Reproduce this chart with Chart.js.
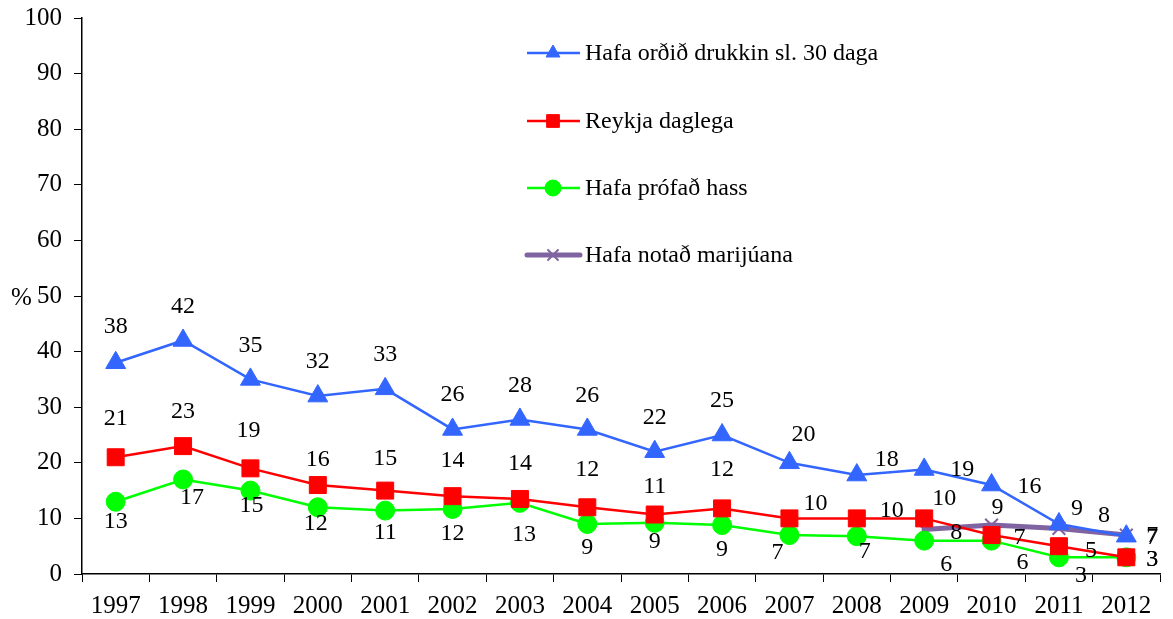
<!DOCTYPE html>
<html>
<head>
<meta charset="utf-8">
<script src="https://cdn.jsdelivr.net/npm/chart.js@4"></script>
<style>
  html, body { margin: 0; padding: 0; background: #fff; }
  #wrap { width: 1173px; height: 619px; position: relative; }
</style>
</head>
<body>
<div id="wrap"><canvas id="chart"></canvas></div>
<script>
const years = ["1997", "1998", "1999", "2000", "2001", "2002", "2003", "2004",
               "2005", "2006", "2007", "2008", "2009", "2010", "2011", "2012"];
const drukkin = [38, 42, 35, 32, 33.3, 26, 27.8, 26, 22, 25, 20, 17.8, 18.8, 16, 9, 6.8];
const reykja = [21, 23, 19, 16, 15, 14, 13.5, 12, 10.7, 11.8, 10, 10, 10, 7, 5, 3];
const hass = [13, 17, 15, 12, 11.4, 11.7, 12.8, 9, 9.2, 8.8, 7, 6.8, 6, 6, 3, 3];
const marijuana = [null, null, null, null, null, null, null, null,
                   null, null, null, null, 8, 8.8, 8.2, 7];
const yTicks = [0, 10, 20, 30, 40, 50, 60, 70, 80, 90, 100];

const seriesNames = ["Hafa orðið drukkin sl. 30 daga", "Reykja daglega", "Hafa prófað hass", "Hafa notað marijúana"];

// where each value label sits relative to its point (px)
const labelOffsets = [
    [[0,-36],[0,-34],[0,-34],[0,-34],[0,-34],[0,-35],[0,-34],[0,-34],[0,-34],[0,-34],[14,-28],[30,-15],[38,0],[38,2],[18,-15],[26,0]],
    [[0,-39],[0,-34],[-2,-38],[0,-25],[0,-32],[0,-35],[0,-35],[0,-38],[0,-28],[0,-39],[26,-15],[35,-8],[20,-20],[28,3],[32,5],[26,2]],
    [[0,20],[9,18],[1,15],[-2,16],[0,22],[0,25],[4,32],[0,24],[0,19],[0,25],[-12,18],[8,16],[22,24],[31,22],[22,18],[26,2]],
    [null,null,null,null,null,null,null,null,null,null,null,null,[32,3],[6,-17],[45,-13],[26,3]]
];

const FONT = "'Liberation Serif', 'Times New Roman', serif";

const valueLabels = {
    id: "valueLabels",
    afterDatasetsDraw(chart) {
        const ctx = chart.ctx;
        ctx.save();
        ctx.font = "24px " + FONT;
        ctx.fillStyle = "#000";
        ctx.textAlign = "center";
        ctx.textBaseline = "middle";
        chart.data.datasets.forEach((ds, i) => {
            const meta = chart.getDatasetMeta(i);
            meta.data.forEach((pt, j) => {
                const v = ds.data[j];
                const off = labelOffsets[i][j];
                if (v == null || !off) return;
                ctx.fillText(String(Math.round(v)), pt.x + off[0], pt.y + off[1]);
            });
        });
        ctx.restore();
    }
};

const insideLegend = {
    id: "insideLegend",
    afterDraw(chart) {
        const ctx = chart.ctx;
        ctx.save();
        ctx.textBaseline = "middle";
        const rows = [53, 121, 188, 255];
        const legendRadius = [8, 9, 8, 7];
        chart.data.datasets.forEach((ds, i) => {
            const y = rows[i];
            ctx.strokeStyle = ds.borderColor;
            ctx.lineWidth = ds.borderWidth;
            ctx.lineCap = i === 3 ? "round" : "butt";
            ctx.beginPath();
            ctx.moveTo(527, y);
            ctx.lineTo(580, y);
            ctx.stroke();
            ctx.fillStyle = ds.pointBackgroundColor;
            ctx.strokeStyle = ds.pointBorderColor;
            ctx.lineWidth = ds.pointBorderWidth;
            Chart.helpers.drawPoint(ctx, {
                pointStyle: ds.pointStyle,
                radius: legendRadius[i],
                rotation: 0,
                borderWidth: ds.pointBorderWidth
            }, 553, y);
            ctx.font = "24px " + FONT;
            ctx.fillStyle = "#000";
            ctx.fillText(seriesNames[i], 585, y + 1);
        });
        // % label next to the y axis
        ctx.font = "25px " + FONT;
        ctx.textAlign = "left";
        ctx.fillText("%", 11, 298);
        ctx.restore();
    }
};

function lineSet(label, data, color, style, radius, width, extra) {
    return Object.assign({
        label: label,
        data: data,
        borderColor: color,
        backgroundColor: color,
        borderWidth: width,
        pointStyle: style,
        pointRadius: radius,
        pointHoverRadius: radius,
        pointBackgroundColor: color,
        pointBorderColor: color,
        pointBorderWidth: 1,
        tension: 0,
        spanGaps: false
    }, extra || {});
}

const ctx = document.getElementById("chart").getContext("2d");
new Chart(ctx, {
    type: "line",
    data: {
        labels: years,
        datasets: [
            lineSet(seriesNames[0], drukkin, "#3366FF", "triangle", 11.5, 2.5),
            lineSet(seriesNames[1], reykja, "#FF0000", "rect", 12, 2.5),
            lineSet(seriesNames[2], hass, "#00FF00", "circle", 9.5, 2.5),
            lineSet(seriesNames[3], marijuana, "#8064A2", "crossRot", 9, 5, { pointBorderWidth: 2, borderCapStyle: "round" })
        ]
    },
    options: {
        responsive: true,
        maintainAspectRatio: false,
        animation: false,
        events: [],
        layout: { padding: { top: 18, right: 10, left: 0, bottom: 0 } },
        plugins: {
            legend: { display: false },
            tooltip: { enabled: false }
        },
        scales: {
            x: {
                offset: true,
                grid: { display: true, offset: true, drawOnChartArea: false, drawTicks: true, tickLength: 8, color: "#000", lineWidth: 1 },
                border: { display: true, color: "#000", width: 1.5 },
                ticks: { color: "#000", font: { family: FONT, size: 25 }, padding: 9, maxRotation: 0, autoSkip: false },
                afterFit: s => { s.height = 45; s.paddingLeft = 0; s.paddingRight = 0; }
            },
            y: {
                min: 0,
                max: 100,
                afterBuildTicks: s => { s.ticks = yTicks.map(v => ({ value: v })); },
                grid: { display: true, drawOnChartArea: false, drawTicks: true, tickLength: 8, color: "#000", lineWidth: 1 },
                border: { display: true, color: "#000", width: 1.5 },
                ticks: { color: "#000", font: { family: FONT, size: 25 }, padding: 12 },
                afterFit: s => { s.width = 82; s.paddingTop = 0; s.paddingBottom = 0; }
            }
        }
    },
    plugins: [valueLabels, insideLegend]
});
</script>
</body>
</html>
